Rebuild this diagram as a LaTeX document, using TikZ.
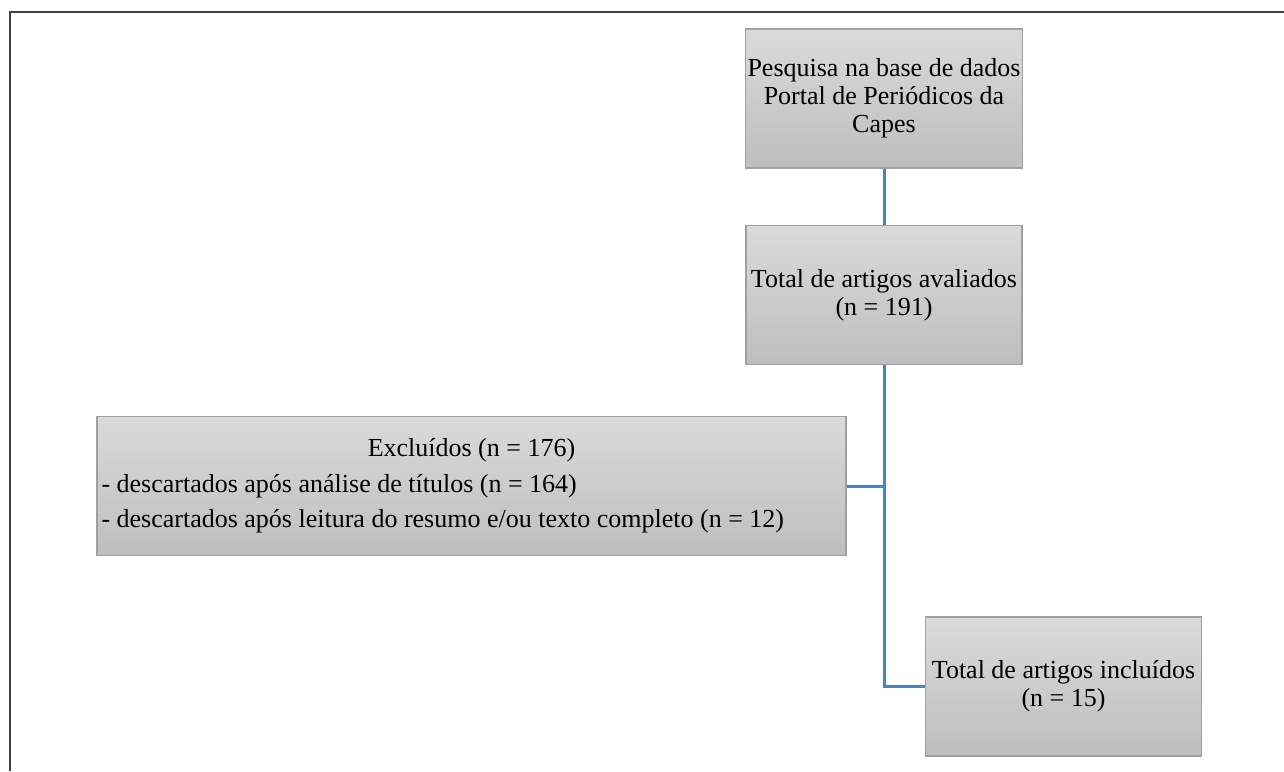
\documentclass[tikz,border=0pt]{standalone}
\usepackage{fontspec}
\setmainfont{Liberation Serif}

\definecolor{caixaTopo}{RGB}{218,218,218}
\definecolor{caixaBase}{RGB}{190,190,190}
\definecolor{caixaBorda}{RGB}{160,160,160}
\definecolor{linhaAzul}{RGB}{79,129,189}

\begin{document}
\begin{tikzpicture}[x = 0.5pt, y = -0.5pt,
    caixa/.style = {draw = caixaBorda, line width = 0.6pt, top color = caixaTopo, bottom color = caixaBase,
        minimum width = 138pt, minimum height = 69.5pt, inner sep = 1pt, align = center,
        font = \fontsize{13}{14}\selectfont},
    ligacao/.style = {draw = linhaAzul, line width = 1.5pt}]
    \useasboundingbox (0,0) rectangle (1284,771);
    \draw [line width = 1pt, black!75] (10,771) -- (10,12) -- (1284,12);

    \node [caixa] (busca) at (884,98.5) {Pesquisa na base de dados\\ Portal de Periódicos da\\ Capes};
    \node [caixa] (avaliados) at (884,295) {Total de artigos avaliados\\ (n = 191)};
    \node [caixa, minimum width = 374.5pt, align = left, font = \fontsize{13}{17.75}\selectfont] (excluidos) at (471.5,486)
        {\makebox[370pt]{Excluídos (n = 176)}\\
         - descartados após análise de títulos (n = 164)\\
         - descartados após leitura do resumo e/ou texto completo (n = 12)};
    \node [caixa] (incluidos) at (1063.5,686.5) {Total de artigos incluídos\\ (n = 15)};

    \draw [ligacao] (busca) -- (avaliados);
    \draw [ligacao] (avaliados.south) |- (incluidos.west);
    \draw [ligacao] (excluidos.east) -- (excluidos.east -| avaliados.south);
\end{tikzpicture}
\end{document}
